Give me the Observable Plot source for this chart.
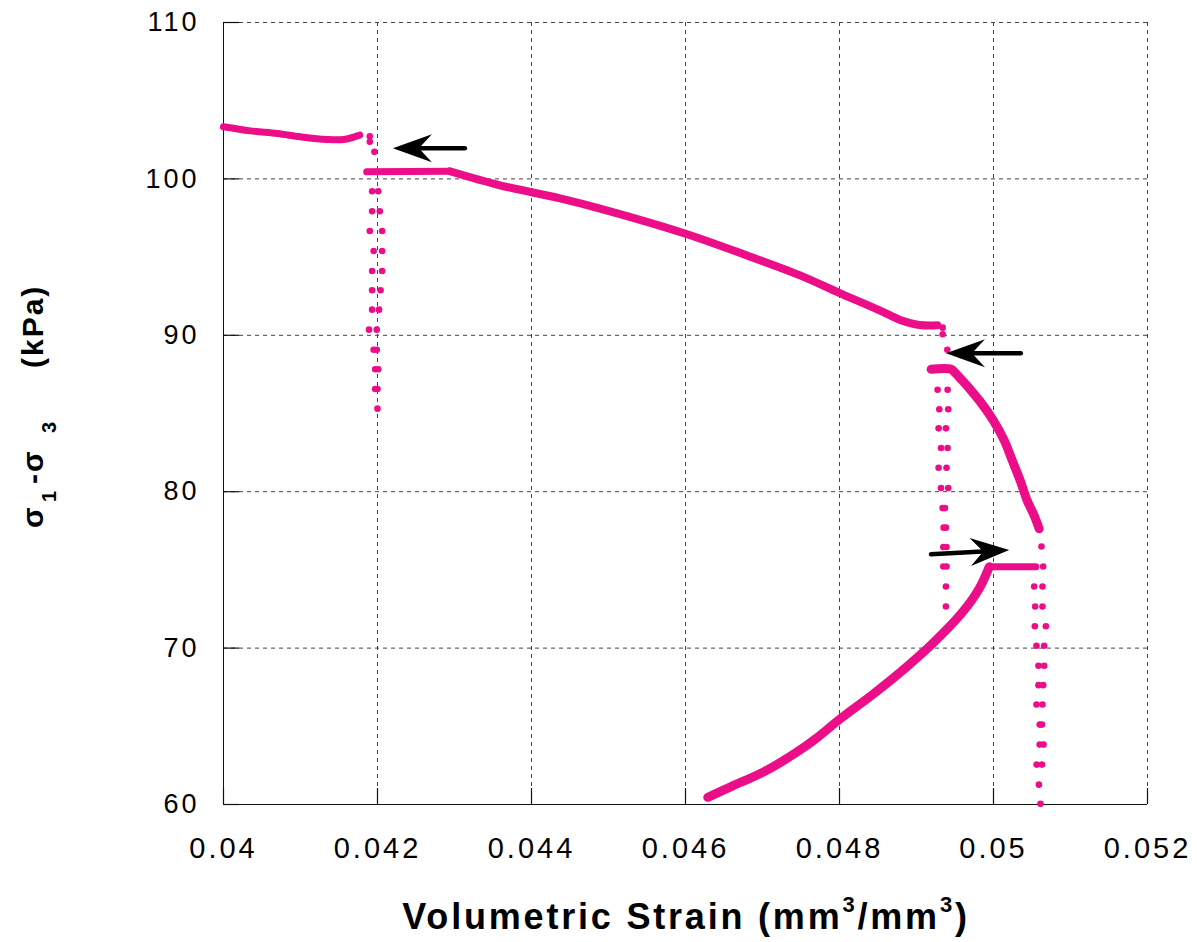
<!DOCTYPE html>
<html><head><meta charset="utf-8">
<script src="https://cdn.jsdelivr.net/npm/d3@7"></script>
<script src="https://cdn.jsdelivr.net/npm/@observablehq/plot@0.6"></script>
<style>
body{margin:0;background:#fff;}
g[aria-label="x-axis tick label"] text{letter-spacing:3px;}
g[aria-label="y-axis tick label"] text{letter-spacing:3px;}
</style>
</head><body><div id="chart"></div>
<script>
// ---- axes ----
const xTicks = [0.04, 0.042, 0.044, 0.046, 0.048, 0.05, 0.052];
const xTickLabels = ["0.04", "0.042", "0.044", "0.046", "0.048", "0.05", "0.052"];
const yTicks = [60, 70, 80, 90, 100, 110];
const yTickLabels = ["60", "70", "80", "90", "100", "110"];

// ---- dense recorded curves ----
const topLeftX = [0.04, 0.04035, 0.0407, 0.0410, 0.04134, 0.04156, 0.04177];
const topLeftY = [103.33, 103.07, 102.9, 102.69, 102.52, 102.52, 102.8];

const plateauX = [0.04186, 0.04294];
const plateauY = [100.45, 100.49];

const mainX = [0.04294, 0.04359, 0.04437, 0.04489, 0.04599, 0.04679, 0.04748, 0.04798, 0.04852, 0.04878, 0.04904, 0.04927];
const mainY = [100.49, 99.59, 98.75, 98.1, 96.51, 95.12, 93.85, 92.75, 91.6, 91.0, 90.66, 90.64];

const rightX = [0.04919, 0.04945, 0.049512, 0.049815, 0.049997, 0.050139, 0.050243, 0.050346, 0.050437, 0.050528, 0.050593];
const rightY = [87.83, 87.83, 87.55, 85.84, 84.56, 83.28, 82.0, 80.72, 79.44, 78.48, 77.63];

const lowerX = [0.04629, 0.046572, 0.047048, 0.047437, 0.047711, 0.047998, 0.048431, 0.048863, 0.049209, 0.049595, 0.049815, 0.049945];
const lowerY = [60.46, 61.10, 62.17, 63.32, 64.28, 65.43, 67.03, 68.76, 70.29, 72.28, 73.81, 75.20];

const lowPlateauX = [0.049945, 0.05055];
const lowPlateauY = [75.20, 75.20];

// ---- sparse points (fast unloading / reloading) ----
const sparseX = [
  0.0419, 0.0419, 0.04196,
  0.04193, 0.04201, 0.04193, 0.04203, 0.04190, 0.04206, 0.04195, 0.04206,
  0.04193, 0.04206, 0.04193, 0.04204, 0.04193, 0.04202, 0.04189, 0.04199,
  0.04195, 0.04199, 0.04197, 0.04201, 0.04197, 0.04200, 0.04200,
  0.04934, 0.04934, 0.04940,
  0.049274, 0.049404, 0.049296, 0.049412, 0.049287, 0.049382, 0.049318, 0.049404,
  0.049287, 0.04939, 0.049318, 0.049412, 0.049339, 0.04937, 0.049352, 0.049382,
  0.049348, 0.04939, 0.049348, 0.04939, 0.049382, 0.049382,
  0.050584, 0.050623, 0.050645, 0.050528, 0.050636, 0.050541, 0.050636,
  0.050537, 0.05068, 0.050558, 0.050658, 0.050584, 0.050658, 0.050584, 0.050645,
  0.050558, 0.050636, 0.0506, 0.05063, 0.0506, 0.05065, 0.05056, 0.05063,
  0.05059, 0.05061
];
const sparseY = [
  102.73, 102.37, 101.73,
  99.21, 99.21, 97.93, 97.93, 96.67, 96.67, 95.39, 95.39,
  94.11, 94.11, 92.88, 92.88, 91.64, 91.64, 90.36, 90.36,
  89.08, 89.08, 87.83, 87.83, 86.57, 86.57, 85.31,
  90.49, 90.07, 89.08,
  86.52, 86.52, 85.27, 85.27, 84.05, 84.05, 82.79, 82.79,
  81.53, 81.53, 80.23, 80.23, 78.95, 78.95, 77.70, 77.70,
  76.46, 76.46, 75.22, 75.22, 73.94, 72.66,
  77.7, 76.5, 75.22, 73.94, 73.94, 72.66, 72.66,
  71.40, 71.40, 70.15, 70.15, 68.87, 68.87, 67.63, 67.63,
  66.39, 66.39, 65.11, 65.11, 63.83, 63.83, 62.55, 62.55,
  61.27, 60.04
];

// ---- arrows (tail -> tip) ----
const arrowTailX = [0.043135, 0.050355, 0.049188];
const arrowTailY = [101.96, 88.85, 76.0];
const arrowTipX = [0.0422, 0.049383, 0.050204];
const arrowTipY = [101.96, 88.85, 76.27];
const arrowDir = ["left", "left", "right"];

const pink = "#ec0e88";
const rows = (xs, ys) => xs.map((x, i) => ({x, y: ys[i]}));

function headSymbol(angleDeg) {
  const a = angleDeg * Math.PI / 180, c = Math.cos(a), s = Math.sin(a);
  const pts = [[0, 0], [-39, -14], [-26, 0], [-39, 14]];
  return {draw(ctx) {
    pts.forEach(([px, py], i) => {
      const X = px * c - py * s, Y = px * s + py * c;
      i ? ctx.lineTo(X, Y) : ctx.moveTo(X, Y);
    });
    ctx.closePath();
  }};
}
const arrows = arrowTailX.map((x, i) => ({x1: x, y1: arrowTailY[i], x2: arrowTipX[i], y2: arrowTipY[i], dir: arrowDir[i]}));

const font = "'Liberation Sans', Arial, Helvetica, sans-serif";
const lineOpts = {x: "x", y: "y", stroke: pink, strokeLinecap: "round", strokeLinejoin: "round"};
const xMin = 0.04, yMin = 60;

const plot = Plot.plot({
  width: 1197, height: 942,
  marginLeft: 223, marginRight: 50, marginTop: 22, marginBottom: 138,
  x: {domain: [0.04, 0.052]},
  y: {domain: [60, 110]},
  style: {fontFamily: font, background: "#fff", color: "#000"},
  marks: [
    Plot.gridX(xTicks, {stroke: "#444", strokeOpacity: 1, strokeDasharray: "4,4"}),
    Plot.gridY(yTicks, {stroke: "#444", strokeOpacity: 1, strokeDasharray: "4,4"}),
    Plot.ruleX([xMin], {stroke: "#111"}),
    Plot.ruleY([yMin], {stroke: "#111"}),
    // inward tick marks
    Plot.ruleX(xTicks, {x: d => d, y1: yMin, y2: yMin, insetTop: -16, stroke: "#111", strokeWidth: 1.2}),
    Plot.ruleY(yTicks, {y: d => d, x1: xMin, x2: xMin, insetRight: -16, stroke: "#111", strokeWidth: 1.2}),
    Plot.axisX(xTicks, {tickSize: 0, tickPadding: 33, fontSize: 29, label: null,
      tickFormat: d => xTickLabels[xTicks.indexOf(d)]}),
    Plot.axisY(yTicks, {tickSize: 0, tickPadding: 24, fontSize: 27, label: null,
      tickFormat: d => yTickLabels[yTicks.indexOf(d)]}),
    Plot.line(rows(topLeftX, topLeftY), {...lineOpts, strokeWidth: 7, curve: "catmull-rom"}),
    Plot.line(rows(plateauX, plateauY), {...lineOpts, strokeWidth: 7}),
    Plot.line(rows(mainX, mainY), {...lineOpts, strokeWidth: 8, curve: "catmull-rom"}),
    Plot.line(rows(rightX, rightY), {...lineOpts, strokeWidth: 9, curve: "catmull-rom"}),
    Plot.line(rows(lowerX, lowerY), {...lineOpts, strokeWidth: 9, curve: "catmull-rom"}),
    Plot.line(rows(lowPlateauX, lowPlateauY), {...lineOpts, strokeWidth: 7}),
    Plot.dot(rows(sparseX, sparseY), {x: "x", y: "y", r: 3.3, fill: pink, stroke: null}),
    Plot.arrow(arrows, {x1: "x1", y1: "y1", x2: "x2", y2: "y2", headLength: 0, insetEnd: 22, strokeWidth: 4.5, stroke: "#000"}),
    Plot.dot(arrows.filter(d => d.dir === "left"), {x: "x2", y: "y2", symbol: headSymbol(180), fill: "#000", stroke: null}),
    Plot.dot(arrows.filter(d => d.dir === "right"), {x: "x2", y: "y2", symbol: headSymbol(-3), fill: "#000", stroke: null})
  ]
});

const svg = d3.select(plot);
// x-axis title
const xt = svg.append("text")
  .attr("x", 686).attr("y", 929)
  .attr("text-anchor", "middle")
  .attr("font-family", font).attr("font-weight", "bold").attr("font-size", 36)
  .attr("letter-spacing", 2.8).attr("fill", "#000");
xt.append("tspan").text("Volumetric Strain (mm");
xt.append("tspan").attr("font-size", 22).attr("dy", -17).text("3");
xt.append("tspan").attr("dy", 17).text("/mm");
xt.append("tspan").attr("font-size", 22).attr("dy", -17).text("3");
xt.append("tspan").attr("dy", 17).text(")");

// y-axis title (rotated)
const yt = svg.append("text")
  .attr("transform", "translate(43,528) rotate(-90)")
  .attr("text-anchor", "start")
  .attr("font-family", font).attr("font-weight", "bold").attr("font-size", 30)
  .attr("letter-spacing", 2).attr("fill", "#000");
yt.append("tspan").attr("x", 0).attr("y", 0).text("σ");
yt.append("tspan").attr("x", 26).attr("y", 13).attr("font-size", 20).text("1");
yt.append("tspan").attr("x", 44).attr("y", 0).text("-σ");
yt.append("tspan").attr("x", 95).attr("y", 13).attr("font-size", 20).text("3");
yt.append("tspan").attr("x", 160).attr("y", 0).text("(kPa)");

document.getElementById("chart").appendChild(plot);
</script>
</body></html>
